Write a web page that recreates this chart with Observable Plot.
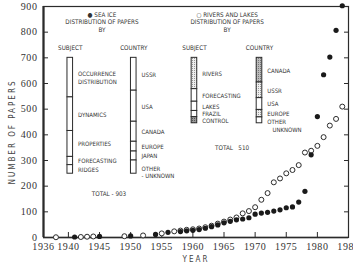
<!DOCTYPE html>
<html><head><meta charset="utf-8">
<script src="https://cdn.jsdelivr.net/npm/d3@7"></script>
<script src="https://cdn.jsdelivr.net/npm/@observablehq/plot@0.6"></script>
<style>
html,body{margin:0;padding:0;background:#fff;}
</style>
</head><body><div id="chart"></div>
<script>
// Cumulative number of papers
const seaIceYears  = [1941,1945,1950,1954,1956,1958,1959,1960,1961,1962,1963,1964,1965,1966,1967,1968,1969,1970,1971,1972,1973,1974,1975,1976,1977,1978,1979,1980,1981,1982,1983,1984];
const seaIceCounts = [2,4,6,12,20,23,26,28,31,36,42,49,57,63,69,72,77,91,95,98,103,108,116,119,138,180,322,471,634,703,807,903];
const riverYears  = [1938,1942,1943,1944,1949,1952,1955,1957,1958,1959,1960,1961,1962,1963,1964,1965,1966,1967,1968,1969,1970,1971,1972,1973,1974,1975,1976,1977,1978,1979,1980,1981,1982,1983,1984];
const riverCounts = [1,2,3,4,5,8,16,24,27,30,32,35,40,46,54,62,70,78,94,103,118,147,173,215,230,250,263,282,331,338,357,391,436,462,510];

// Distribution of papers (inset bars)
const seaIceSubjects = ["OCCURRENCE\nDISTRIBUTION","DYNAMICS","PROPERTIES","FORECASTING","RIDGES"];
const seaIceSubjectCounts = [308,262,202,64,67];
const seaIceCountries = ["USSR","USA","CANADA","EUROPE","JAPAN","OTHER\n- UNKNOWN"];
const seaIceCountryCounts = [256,242,156,76,70,103];
const riverSubjects = ["RIVERS","FORECASTING","LAKES","FRAZIL","CONTROL"];
const riverSubjectCounts = [244,98,72,48,48];
const riverCountries = ["CANADA","USSR","USA","EUROPE","OTHER\n\u00a0\u00a0\u00a0UNKNOWN"];
const riverCountryCounts = [192,122,92,58,46];

const xTicks = [1936,1940,1945,1950,1955,1960,1965,1970,1975,1980,1985];
const yTicks = [0,100,200,300,400,500,600,700,800,900];

// layout of the inset diagrams (axis units)
const TOP = 700, PER = 0.5, HALF = 0.45;
const fillsRiverSubject = ["url(#stip)","#fff","#fff","#fff","url(#dark)"];
const fillsRiverCountry = ["url(#mid)","url(#stip)","#fff","url(#stip)","#fff"];

function stack(names, counts, xc, fills) {
  let acc = 0;
  return names.map((name, i) => {
    const y1 = TOP - acc * PER; acc += counts[i]; const y2 = TOP - acc * PER;
    return {name, x: xc, y1, y2, ym: (y1 + y2) / 2, fill: fills ? fills[i] : "#fff"};
  });
}
const segs = [
  ...stack(seaIceSubjects, seaIceSubjectCounts, 1940.3),
  ...stack(seaIceCountries, seaIceCountryCounts, 1950.5),
  ...stack(riverSubjects, riverSubjectCounts, 1960.25, fillsRiverSubject),
  ...stack(riverCountries, riverCountryCounts, 1970.7, fillsRiverCountry)
];
const isOther = d => d.name.startsWith("OTHER");
const headings = [
  {x: 1940.3, t: "SUBJECT"}, {x: 1950.5, t: "COUNTRY"},
  {x: 1960.25, t: "SUBJECT"}, {x: 1970.7, t: "COUNTRY"}
];
const titles = [
  {x: 1945.4, t: "● SEA ICE\nDISTRIBUTION OF PAPERS\nBY"},
  {x: 1965.5, t: "○ RIVERS AND LAKES\nDISTRIBUTION OF PAPERS\nBY"}
];
const seaTotal = [{x: 1945.4, y: TOP - d3.sum(seaIceSubjectCounts) * PER, t: "TOTAL - " + d3.sum(seaIceSubjectCounts)}];
const riverTotal = [{x: 1965.5, y: TOP - d3.sum(riverSubjectCounts) * PER, t: "TOTAL\u00a0\u00a0\u00a0" + d3.sum(riverSubjectCounts)}];

const seaData = seaIceYears.map((year, i) => ({year, count: seaIceCounts[i]}));
const riverData = riverYears.map((year, i) => ({year, count: riverCounts[i]}));

const small = {fontFamily: "DejaVu Sans Condensed, DejaVu Sans, sans-serif", fill: "#333"};
const ink = "#2b2b2b";

const chart = Plot.plot({
  width: 353, height: 265,
  marginLeft: 43, marginRight: 5, marginTop: 6, marginBottom: 28,
  style: {fontFamily: "'Liberation Serif', serif", fontSize: "10px", color: "#333", background: "#fff"},
  x: {domain: [1936, 1985]},
  y: {domain: [0, 900]},
  marks: [
    Plot.frame({stroke: ink, strokeWidth: 1.2}),
    Plot.axisX(xTicks, {tickSize: 0, tickPadding: 5, tickFormat: d => String(d), label: "YEAR", labelArrow: "none", labelAnchor: "center", labelOffset: 24, fill: "#333"}),
    Plot.axisX(xTicks, {tickSize: -5, tickFormat: () => "", label: null, stroke: ink}),
    Plot.axisY(yTicks, {tickSize: 0, tickPadding: 6, tickFormat: d => String(d), label: "NUMBER OF PAPERS", labelArrow: "none", labelAnchor: "center", labelOffset: 34, fill: "#333"}),
    Plot.axisY(yTicks, {tickSize: -5, tickFormat: () => "", label: null, stroke: ink}),
    Plot.axisY(yTicks, {anchor: "right", tickSize: -5, tickFormat: () => "", label: null, stroke: ink}),
    Plot.ruleX([1936], {stroke: ink, strokeWidth: 2.2}),
    Plot.ruleY([0], {stroke: ink, strokeWidth: 1.6}),
    Plot.rect(segs, {x1: d => d.x - HALF, x2: d => d.x + HALF, y1: "y1", y2: "y2", fill: "fill", stroke: ink, strokeWidth: 1}),
    Plot.text(segs.filter(d => !isOther(d)), {x: d => d.x + HALF, y: "ym", text: "name", textAnchor: "start", dx: 5, fontSize: 6, lineHeight: 1.25, ...small}),
    Plot.text(segs.filter(isOther), {x: d => d.x + HALF, y: "ym", text: "name", textAnchor: "start", lineAnchor: "top", dx: 5, dy: -2, fontSize: 6, lineHeight: 1.3, ...small}),
    Plot.text(headings, {x: "x", y: TOP, text: "t", dy: -10, fontSize: 6.3, ...small}),
    Plot.text(titles, {x: "x", frameAnchor: "top", lineAnchor: "top", dy: 5, text: "t", fontSize: 6.3, lineHeight: 1.2, ...small}),
    Plot.text(seaTotal, {x: "x", y: "y", text: "t", dx: 7, dy: 20, fontSize: 6.3, ...small}),
    Plot.text(riverTotal, {x: "x", y: "y", text: "t", dx: 5, dy: 25, fontSize: 6.3, ...small}),
    Plot.dot(riverData, {x: "year", y: "count", r: 2.5, stroke: ink, strokeWidth: 1, fill: "#fff"}),
    Plot.dot(seaData, {x: "year", y: "count", r: 2.6, fill: "#1a1a1a", stroke: "none"})
  ]
});

// patterns used by the shaded bar segments
const svg = d3.select(chart);
const defs = svg.insert("defs", ":first-child");
function pattern(id, bg, dot) {
  const p = defs.append("pattern").attr("id", id).attr("width", 2).attr("height", 2).attr("patternUnits", "userSpaceOnUse");
  p.append("rect").attr("width", 2).attr("height", 2).attr("fill", bg);
  p.append("rect").attr("width", 1).attr("height", 1).attr("fill", dot);
}
pattern("stip", "#eee", "#999");
pattern("mid", "#bbb", "#777");
pattern("dark", "#999", "#555");
svg.selectAll('g[aria-label="x-axis label"] text, g[aria-label="y-axis label"] text')
  .style("letter-spacing", "2px").style("font-family", "'DejaVu Sans Condensed', 'DejaVu Sans', sans-serif").style("font-size", "8px").style("fill", "#444");
svg.selectAll('g[aria-label="y-axis label"] text').attr("dx", -10);
svg.selectAll('g[aria-label="x-axis tick label"] text, g[aria-label="y-axis tick label"] text')
  .style("letter-spacing", "0.6px").style("font-family", "'Liberation Serif', serif").style("font-size", "10px");
document.getElementById("chart").appendChild(chart);
</script>
</body></html>
